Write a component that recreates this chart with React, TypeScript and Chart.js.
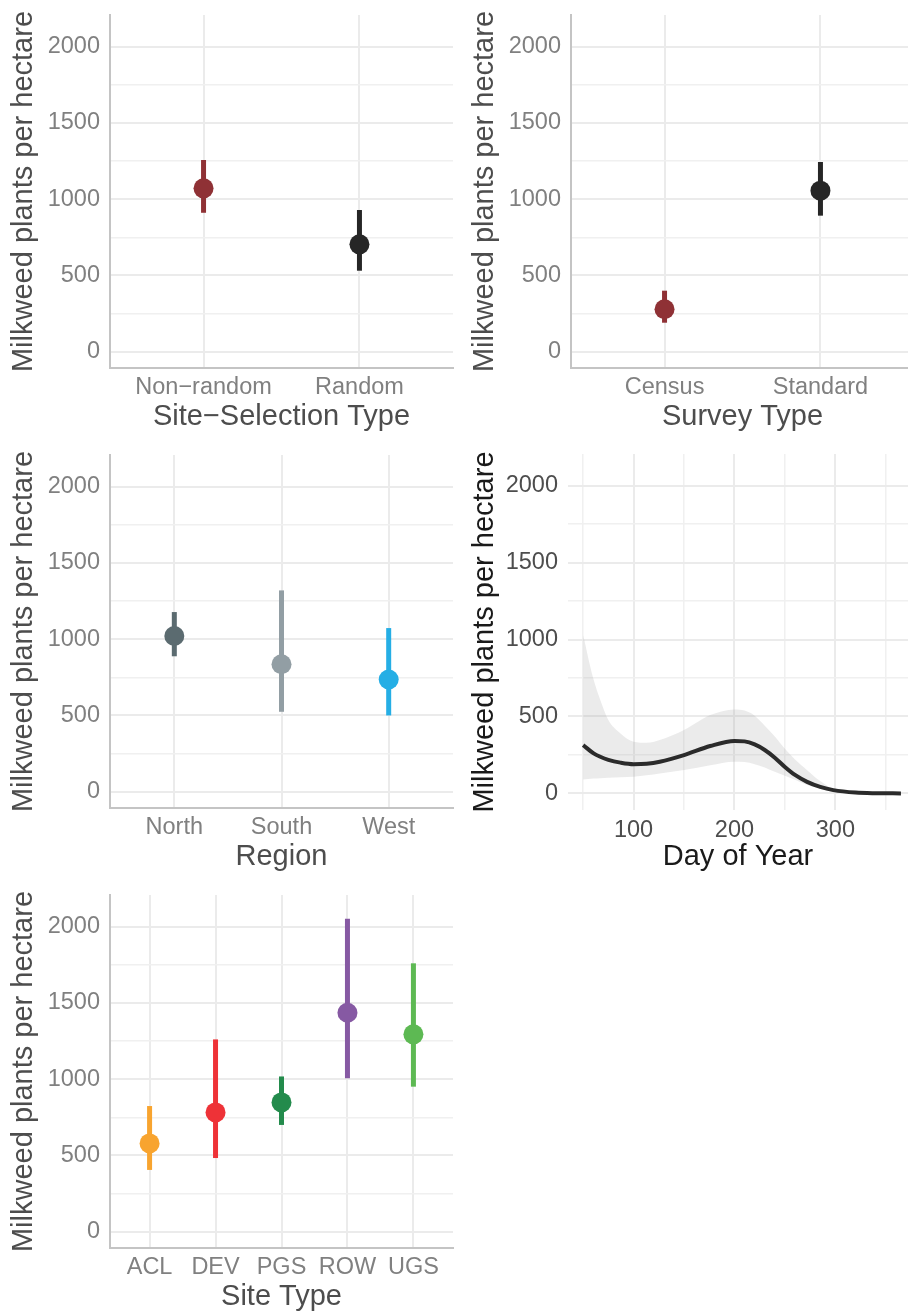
import React, { useEffect, useRef } from "react";
import { Chart, registerables } from "chart.js";

Chart.register(...registerables);

const FONT = "'Liberation Sans', Arial, Helvetica, sans-serif";
Chart.defaults.font.family = FONT;

// ---------- data ----------
const Y_TITLE = "Milkweed plants per hectare";
const yTickValues = [0, 250, 500, 750, 1000, 1250, 1500, 1750, 2000];
const yLabelled = [0, 500, 1000, 1500, 2000];

const siteSelCats = ["Non\u2212random", "Random"];
const siteSelMean = [1071, 704];
const siteSelLow = [911, 531];
const siteSelHigh = [1257, 929];

const surveyCats = ["Census", "Standard"];
const surveyMean = [278, 1056];
const surveyLow = [190, 892];
const surveyHigh = [400, 1244];

const regionCats = ["North", "South", "West"];
const regionMean = [1021, 836, 736];
const regionLow = [888, 524, 500];
const regionHigh = [1178, 1320, 1073];

const siteTypeCats = ["ACL", "DEV", "PGS", "ROW", "UGS"];
const siteTypeMean = [579, 782, 848, 1436, 1294];
const siteTypeLow = [405, 483, 700, 1006, 951];
const siteTypeHigh = [824, 1261, 1018, 2053, 1760];

const doyDays = [50, 60, 67, 75, 87, 100, 113, 126, 150, 176, 200, 210, 220, 230, 240, 250, 260, 272, 285, 298, 320, 340, 365];
const doyFit = [314, 262, 238, 218, 200, 190, 193, 206, 249, 308, 341, 338, 318, 282, 232, 172, 120, 75, 42, 21, 5, 1, 0];
const doyUpper = [1029, 748, 607, 477, 390, 336, 329, 347, 412, 509, 546, 538, 505, 440, 370, 290, 220, 151, 80, 28, 4, 1, 0];
const doyLower = [91, 96, 99, 102, 105, 108, 118, 130, 152, 183, 206, 204, 190, 168, 140, 115, 88, 54, 30, 11, 3, 0, 0];
const doyTicks = [50, 100, 150, 200, 250, 300, 350];
const doyLabelled = [100, 200, 300];

// ---------- styles ----------
const siteSelColors = ["#8F3135", "#262626"];
const surveyColors = ["#8F3135", "#262626"];
const regionColors = ["#5B6B70", "#929EA4", "#25AEE5"];
const siteTypeColors = ["#F8A42F", "#EE3237", "#238B4C", "#8659A3", "#5DB953"];

const MAJOR = "#EBEBEB";
const MINOR = "#F0F0F0";
const AXIS = "#C4C4C4";
const TICK_SIZE = 23.5;
const TITLE_SIZE = 29;

function zeroPad(s: any) {
  s.paddingTop = 0;
  s.paddingBottom = 0;
  s.paddingLeft = 0;
  s.paddingRight = 0;
}

function yScale(width: number, tickColor: string, titleColor: string, axisLine: boolean, min: number, max: number) {
  return {
    type: "linear",
    min,
    max,
    afterBuildTicks: (s: any) => {
      s.ticks = yTickValues.map((v) => ({ value: v }));
    },
    afterFit: (s: any) => {
      s.width = width;
      zeroPad(s);
    },
    grid: {
      drawTicks: false,
      color: (c: any) => (c.tick && yLabelled.includes(c.tick.value) ? MAJOR : MINOR),
      lineWidth: (c: any) => (c.tick && yLabelled.includes(c.tick.value) ? 2 : 1.5),
    },
    border: { display: axisLine, color: AXIS, width: 2 },
    ticks: {
      padding: 10,
      color: tickColor,
      font: { family: FONT, size: TICK_SIZE },
      callback: (v: any) => (yLabelled.includes(v) ? String(v) : ""),
    },
    title: {
      display: true,
      text: Y_TITLE,
      color: titleColor,
      font: { family: FONT, size: TITLE_SIZE },
      padding: { top: 7, bottom: 0 },
    },
  };
}

function dotConfig(cats: string[], mean: number[], low: number[], high: number[], colors: string[], xTitle: string, padRight: number) {
  const n = cats.length;
  const datasets: any[] = [
    {
      data: cats.map((_, i) => ({ x: i + 1, y: mean[i] })),
      pointRadius: 10,
      pointHoverRadius: 10,
      pointBackgroundColor: colors,
      pointBorderColor: colors,
      pointBorderWidth: 0,
    },
  ];
  cats.forEach((_, i) => {
    datasets.push({
      data: [
        { x: i + 1, y: low[i] },
        { x: i + 1, y: high[i] },
      ],
      showLine: true,
      borderColor: colors[i],
      borderWidth: 5,
      borderCapStyle: "butt",
      pointRadius: 0,
      pointHoverRadius: 0,
    });
  });
  return {
    type: "scatter",
    data: { datasets },
    options: {
      responsive: false,
      animation: false,
      events: [],
      layout: { autoPadding: false, padding: { top: 15, right: padRight, left: 0, bottom: 0 } },
      plugins: { legend: { display: false }, tooltip: { enabled: false } },
      scales: {
        x: {
          type: "linear",
          min: 0.4,
          max: n + 0.6,
          afterBuildTicks: (s: any) => {
            s.ticks = cats.map((_, i) => ({ value: i + 1 }));
          },
          afterFit: (s: any) => {
            s.height = 72;
            zeroPad(s);
          },
          grid: { drawTicks: false, color: MAJOR, lineWidth: 2 },
          border: { display: true, color: AXIS, width: 2 },
          ticks: {
            padding: 5,
            autoSkip: false,
            maxRotation: 0,
            color: "#808080",
            font: { family: FONT, size: TICK_SIZE },
            callback: (v: any) => cats[Math.round(v) - 1] ?? "",
          },
          title: {
            display: true,
            text: xTitle,
            color: "#4D4D4D",
            font: { family: FONT, size: TITLE_SIZE },
            padding: { top: 0, bottom: 6 },
          },
        },
        y: yScale(110, "#808080", "#4D4D4D", true, -107, 2208),
      },
    },
  };
}

function doyConfig() {
  return {
    type: "scatter",
    data: {
      datasets: [
        {
          data: doyDays.map((d, i) => ({ x: d, y: doyFit[i] })),
          showLine: true,
          borderColor: "#2B2B2B",
          borderWidth: 4,
          borderCapStyle: "butt",
          cubicInterpolationMode: "monotone",
          pointRadius: 0,
          pointHoverRadius: 0,
          fill: false,
        },
        {
          data: doyDays.map((d, i) => ({ x: d, y: doyUpper[i] })),
          showLine: true,
          borderColor: "transparent",
          borderWidth: 0,
          cubicInterpolationMode: "monotone",
          pointRadius: 0,
          pointHoverRadius: 0,
          backgroundColor: "rgba(153,153,153,0.2)",
          fill: "+1",
        },
        {
          data: doyDays.map((d, i) => ({ x: d, y: doyLower[i] })),
          showLine: true,
          borderColor: "transparent",
          borderWidth: 0,
          cubicInterpolationMode: "monotone",
          pointRadius: 0,
          pointHoverRadius: 0,
          fill: false,
        },
      ],
    },
    options: {
      responsive: false,
      animation: false,
      events: [],
      layout: { autoPadding: false, padding: { top: 14, right: 7, left: 0, bottom: 0 } },
      plugins: { legend: { display: false }, tooltip: { enabled: false } },
      scales: {
        x: {
          type: "linear",
          min: 35,
          max: 372,
          afterBuildTicks: (s: any) => {
            s.ticks = doyTicks.map((v) => ({ value: v }));
          },
          afterFit: (s: any) => {
            s.height = 70;
            zeroPad(s);
          },
          grid: {
            drawTicks: false,
            color: (c: any) => (c.tick && doyLabelled.includes(c.tick.value) ? MAJOR : MINOR),
            lineWidth: (c: any) => (c.tick && doyLabelled.includes(c.tick.value) ? 2 : 1.5),
          },
          border: { display: false },
          ticks: {
            padding: 6,
            autoSkip: false,
            maxRotation: 0,
            color: "#4D4D4D",
            font: { family: FONT, size: TICK_SIZE },
            callback: (v: any) => (doyLabelled.includes(v) ? String(v) : ""),
          },
          title: {
            display: true,
            text: "Day of Year",
            color: "#1A1A1A",
            font: { family: FONT, size: TITLE_SIZE },
            padding: { top: 0, bottom: 6 },
          },
        },
        y: yScale(107, "#4D4D4D", "#1A1A1A", false, -108, 2206),
      },
    },
  };
}

function Panel({ left, top, width, height, make }: { left: number; top: number; width: number; height: number; make: () => any }) {
  const ref = useRef<HTMLCanvasElement>(null);
  useEffect(() => {
    const chart = new Chart(ref.current as HTMLCanvasElement, make());
    return () => chart.destroy();
  }, []);
  return (
    <canvas
      ref={ref}
      width={width}
      height={height}
      style={{ position: "absolute", left, top, width, height, display: "block" }}
    />
  );
}

export default function App() {
  return (
    <div
      style={{
        position: "absolute",
        left: 0,
        top: 0,
        width: 908,
        height: 1312,
        overflow: "hidden",
        background: "#FFFFFF",
      }}
    >
      <Panel left={0} top={0} width={456} height={440}
        make={() => dotConfig(siteSelCats, siteSelMean, siteSelLow, siteSelHigh, siteSelColors, "Site\u2212Selection Type", 3)} />
      <Panel left={461} top={0} width={454} height={440}
        make={() => dotConfig(surveyCats, surveyMean, surveyLow, surveyHigh, surveyColors, "Survey Type", 1)} />
      <Panel left={0} top={440} width={456} height={440}
        make={() => dotConfig(regionCats, regionMean, regionLow, regionHigh, regionColors, "Region", 3)} />
      <Panel left={461} top={440} width={454} height={440} make={doyConfig} />
      <Panel left={0} top={880} width={456} height={440}
        make={() => dotConfig(siteTypeCats, siteTypeMean, siteTypeLow, siteTypeHigh, siteTypeColors, "Site Type", 3)} />
    </div>
  );
}
